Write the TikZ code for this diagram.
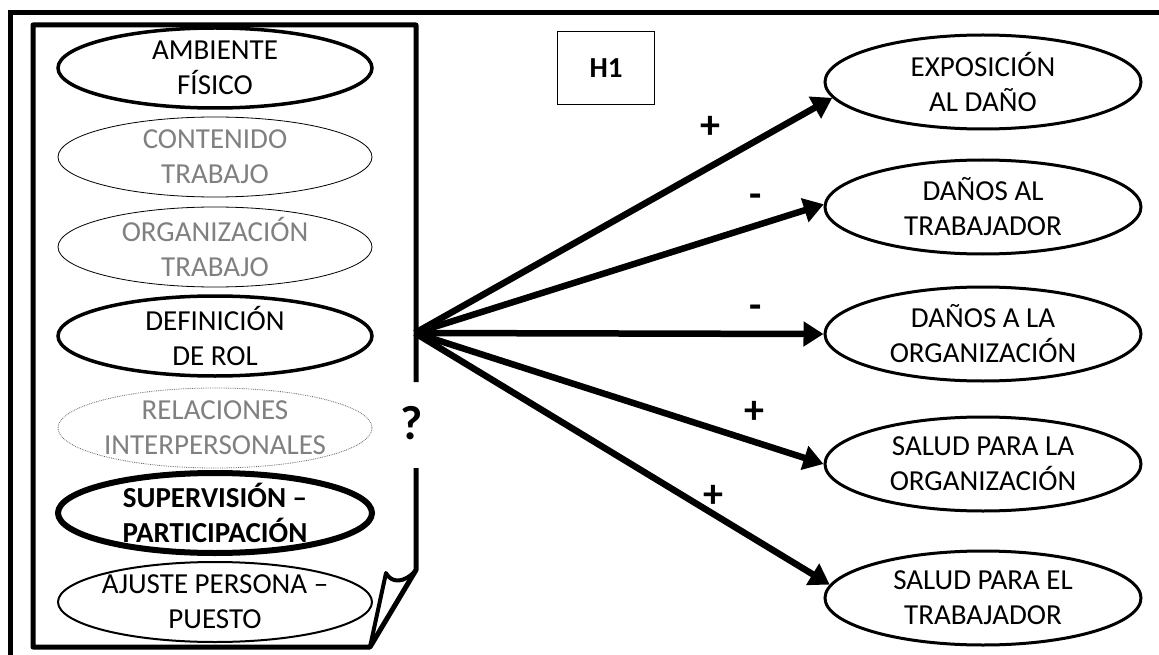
\documentclass[tikz,border=0pt]{standalone}
\usepackage{fontspec}
\setmainfont{Carlito}
\usetikzlibrary{shapes.geometric,arrows.meta}
\begin{document}
\begin{tikzpicture}[x=1pt,y=-1pt,>={Triangle[length=20pt,width=24pt]},
    factor/.style={ellipse,draw,minimum width=314pt,minimum height=80pt,inner xsep=-60pt,inner ysep=-12pt,align=center,font=\fontsize{29}{35}\selectfont},
    tenue/.style={factor,line width=0.8pt,text=black!50},
    efecto/.style={factor,line width=3pt,minimum width=316pt,minimum height=94pt},
    signo/.style={font=\fontsize{40}{40}\selectfont\bfseries},
    flecha/.style={->,line width=6.5pt}]
            \useasboundingbox (0,0) rectangle (1159,655);
            \draw[line width=4.5pt] (10.5,655) -- (10.5,12.5) -- (1159,12.5);
            \draw[line width=5pt,line join=round] (416,382) -- (416,25) -- (33,25) -- (33,647) -- (370,647) -- (416,570) -- (416,468);
            \draw[line width=4pt,line join=round] (416,570) .. controls (404,584) and (391,583) .. (386,573) -- (370,647);
            \node[factor,line width=3.5pt] (ambiente) at (215,68) {AMBIENTE\\FÍSICO};
            \node[tenue] (contenido) at (215,157) {CONTENIDO\\TRABAJO};
            \node[tenue] (organizacion) at (215,247) {ORGANIZACIÓN\\TRABAJO};
            \node[factor,line width=3.5pt] (rol) at (215,336) {DEFINICIÓN\\DE ROL};
            \node[tenue,densely dotted,draw=black!60] (relaciones) at (215,428) {RELACIONES\\INTERPERSONALES};
            \node[factor,line width=6pt,font=\fontsize{29}{35}\selectfont\bfseries] (supervision) at (215,513) {SUPERVISIÓN –\\PARTICIPACIÓN};
            \node[factor,line width=2pt] (ajuste) at (215,602) {AJUSTE PERSONA –\\PUESTO};
            \node[font=\fontsize{48}{48}\selectfont\bfseries] (duda) at (412,423) {?};
            \node[draw,line width=1.5pt,minimum width=97pt,minimum height=73pt,font=\fontsize{29}{29}\selectfont\bfseries] (hipotesis) at (606,68) {H1};
            \node[efecto] (exposicion) at (983,82) {EXPOSICIÓN\\AL DAÑO};
            \node[efecto] (danotrab) at (983,207) {DAÑOS AL\\TRABAJADOR};
            \node[efecto] (danoorg) at (983,334) {DAÑOS A LA\\ORGANIZACIÓN};
            \node[efecto] (saludorg) at (983,464) {SALUD PARA LA\\ORGANIZACIÓN};
            \node[efecto] (saludtrab) at (983,598) {SALUD PARA EL\\TRABAJADOR};
            \coordinate (origen) at (415,333);
            \draw[flecha] (origen) -- (exposicion.186);
            \draw[flecha] (origen) -- (danotrab.179);
            \draw[flecha] (origen) -- (danoorg.west);
            \draw[flecha] (origen) -- (saludorg.west);
            \draw[flecha] (origen) -- (saludtrab.175);
            \node[signo] (mas1) at (710,127) {+};
            \node[signo] (menos1) at (756,201) {-};
            \node[signo] (menos2) at (756,312) {-};
            \node[signo] (mas2) at (754,412) {+};
            \node[signo] (mas3) at (713,496) {+};
        \end{tikzpicture}
\end{document}
